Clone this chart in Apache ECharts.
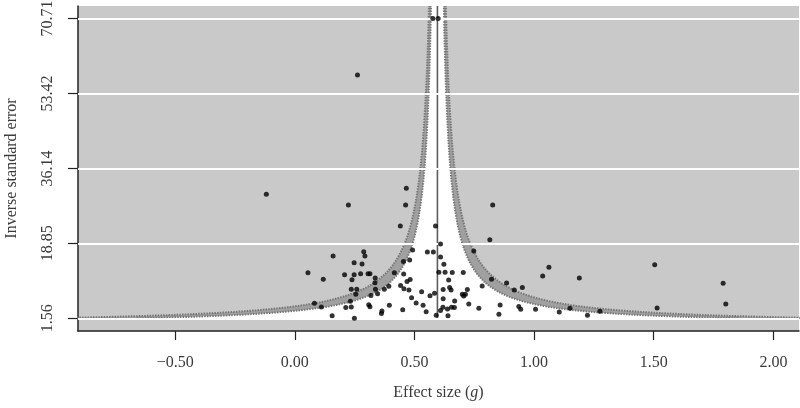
<!DOCTYPE html>
<html><head><meta charset="utf-8">
<script src="https://cdn.jsdelivr.net/npm/echarts@6/dist/echarts.min.js"></script>
<style>html,body{margin:0;padding:0;background:#fff}#c{width:800px;height:408px}</style>
</head><body><div id="c"></div>
<script>
// Study data: effect size (g) and inverse standard error
const effectSizes = [
 -0.119, 0.262, 0.577, 0.599, 0.466, 0.224, 0.463, 0.827, 0.441, 0.588,
  0.815, 0.609, 0.288, 0.293, 0.160, 0.492, 0.554, 0.579, 0.609, 0.748,
  0.248, 0.281, 0.454, 0.480, 0.623, 0.055, 0.208, 0.248, 0.275, 0.306,
  0.314, 0.416, 0.455, 0.602, 0.628, 0.658, 0.704, 0.119, 0.239, 0.336,
  0.335, 0.469, 0.482, 0.643, 0.822, 0.442, 0.456, 0.393, 0.236, 0.259,
  0.374, 0.337, 0.477, 0.530, 0.584, 0.565, 0.255, 0.318, 0.346, 0.488,
  0.620, 0.647, 0.653, 0.700, 0.706, 0.721, 0.713, 0.783, 0.885, 0.917,
  0.951, 0.620, 0.668, 0.727, 0.232, 0.082, 0.111, 0.213, 0.236, 0.309,
  0.314, 0.395, 0.507, 0.536, 0.364, 0.362, 0.451, 0.549, 0.591, 0.609,
  0.619, 0.638, 0.640, 0.655, 0.667, 0.769, 0.858, 0.936, 0.944, 0.853,
  0.156, 0.249, 1.062, 1.036, 1.189, 1.006, 1.105, 1.150, 1.223, 1.275,
  1.504, 1.514, 1.790, 1.801
];
const inverseSE = [
 30.16, 57.68, 70.71, 70.71, 31.55, 27.69, 27.69, 27.69, 22.85, 22.85,
 19.67, 18.70, 16.92, 15.93, 15.93, 17.31, 16.85, 16.85, 15.70, 17.08,
 14.38, 14.08, 14.66, 15.01, 14.02, 12.08, 11.62, 11.59, 11.82, 11.82,
 11.82, 12.08, 11.78, 12.19, 12.19, 12.12, 12.12, 10.56, 10.46, 10.86,
  9.77, 10.05, 10.49, 10.39, 10.58,  9.13,  8.36,  8.94,  8.27,  8.27,
  8.27,  8.25,  8.09,  7.70,  7.33,  6.75,  7.10,  6.82,  7.23,  6.31,
  8.20,  8.66,  8.09,  7.12,  6.70,  8.20,  7.12,  9.01,  9.70,  8.09,
  8.66,  6.06,  5.55,  4.86,  5.48,  5.02,  4.17,  4.05,  4.17,  4.70,
  4.21,  4.56,  5.09,  4.56,  3.24,  2.67,  3.54,  3.08,  2.25,  3.36,
  4.10,  3.71,  2.16,  4.10,  4.05,  3.87,  4.63,  4.28,  3.66,  2.51,
  2.16,  1.56, 13.32, 11.32, 10.86,  3.64,  3.01,  3.87,  2.25,  3.17,
 13.92,  3.94,  9.63,  4.86
];
const xTickValues = [-0.5, 0, 0.5, 1, 1.5, 2];
const yTickValues = [1.56, 18.85, 36.14, 53.42, 70.71];
const pooledEstimate = 0.596;
const contourZ = [1.96, 2.58];
const xRange = [-0.906, 2.107];
const yRange = [-1.37, 73.6];

// ---- derived geometry (funnel contours) ----
const yLow = yTickValues[0], yHigh = yRange[1];
const ySamples = [];
for (let k = 0; k <= 400; k++) ySamples.push(yLow * Math.pow(yHigh / yLow, k / 400));
const clampX = v => Math.max(xRange[0], Math.min(xRange[1], v));
const curve = (z, side) => ySamples.map(y => [pooledEstimate + side * z / y, y]);
const edge = (z, side) => ySamples.map(y => [clampX(pooledEstimate + side * z / y), y]);

const polys = [
  { pts: edge(contourZ[0], -1).concat(edge(contourZ[0], 1).reverse()), color: '#ffffff' },
  { pts: edge(contourZ[1], -1).concat(edge(contourZ[0], -1).reverse()), color: '#a0a0a0' },
  { pts: edge(contourZ[0], 1).concat(edge(contourZ[1], 1).reverse()), color: '#a0a0a0' }
];

const fmtX = v => (v < 0 ? '\u2212' : '') + Math.abs(v).toFixed(2);
const serif = 'Liberation Serif';

const dottedLine = (z, side) => ({
  type: 'line', data: curve(z, side), showSymbol: false, symbol: 'none', clip: true,
  silent: true, z: 3,
  lineStyle: { color: '#777777', width: 2, type: [1.5, 1.2] }
});

const chart = echarts.init(document.getElementById('c'), null, { renderer: 'canvas' });
chart.setOption({
  animation: false,
  grid: { left: 78, right: 1, top: 6, bottom: 77, show: true, backgroundColor: '#c9c9c9', borderWidth: 0,
          containLabel: false, outerBoundsMode: 'none' },
  xAxis: {
    type: 'value', min: xRange[0], max: xRange[1],
    splitLine: { show: false },
    axisLine: { show: true, onZero: false, lineStyle: { color: '#222', width: 1.5 } },
    axisTick: { show: true, length: 9, customValues: xTickValues, lineStyle: { color: '#222', width: 1.2 } },
    axisLabel: { customValues: xTickValues, formatter: fmtX, fontFamily: serif, fontSize: 16, color: '#3a3a3a', margin: 24 },
    name: 'Effect size ({i|g})', nameLocation: 'middle', nameGap: 54,
    nameTextStyle: { fontFamily: serif, fontSize: 16, color: '#3a3a3a',
      rich: { i: { fontFamily: serif, fontSize: 16, fontStyle: 'italic', color: '#3a3a3a' } } }
  },
  yAxis: {
    type: 'value', min: yRange[0], max: yRange[1],
    splitLine: { show: false },
    axisLine: { show: true, onZero: false, lineStyle: { color: '#222', width: 1.5 } },
    axisTick: { show: true, length: 10, customValues: yTickValues, lineStyle: { color: '#222', width: 1.2 } },
    axisLabel: { customValues: yTickValues, formatter: v => v.toFixed(2), rotate: 90, fontFamily: serif, fontSize: 16, color: '#3a3a3a', margin: 22 },
    name: 'Inverse standard error', nameLocation: 'middle', nameGap: 58,
    nameTextStyle: { fontFamily: serif, fontSize: 16, color: '#3a3a3a' }
  },
  series: [
    {
      type: 'line', data: [], silent: true, z: 1,
      markLine: { silent: true, symbol: ['none', 'none'], label: { show: false },
        lineStyle: { color: '#ffffff', type: 'solid', width: 2 },
        data: yTickValues.map(v => ({ yAxis: v })) }
    },
    {
      type: 'custom', z: 2, silent: true,
      data: polys.map((p, i) => [i, 1]),
      renderItem: (params, api) => {
        const p = polys[params.dataIndex];
        return { type: 'polygon', shape: { points: p.pts.map(q => api.coord(q)) }, style: { fill: p.color } };
      }
    },
    dottedLine(contourZ[0], -1), dottedLine(contourZ[0], 1),
    dottedLine(contourZ[1], -1), dottedLine(contourZ[1], 1),
    {
      type: 'line', data: [[pooledEstimate, yLow], [pooledEstimate, yHigh]], showSymbol: false, symbol: 'none',
      silent: true, z: 4, lineStyle: { color: '#5c5c5c', width: 1.6 }
    },
    {
      type: 'scatter', z: 5, symbol: 'circle', symbolSize: 5,
      itemStyle: { color: '#000' },
      data: effectSizes.map((x, i) => [x, inverseSE[i]])
    }
  ]
});
</script></body></html>
